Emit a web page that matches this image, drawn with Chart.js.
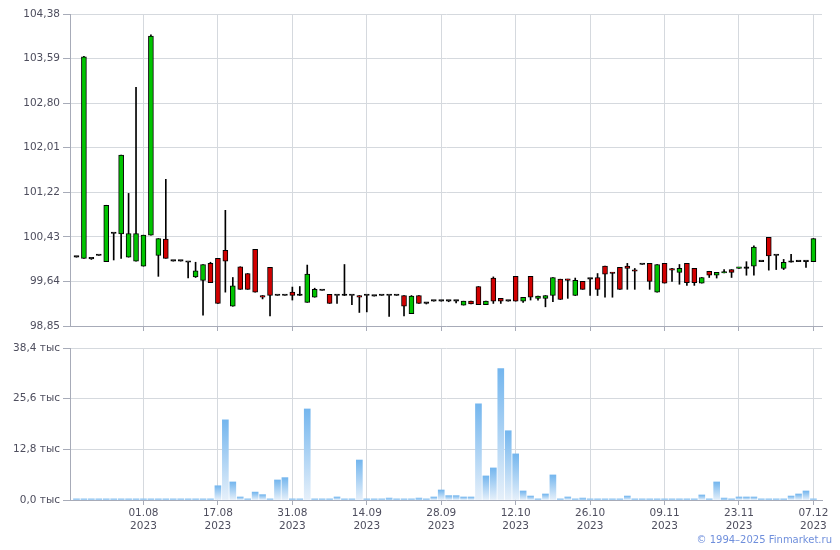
<!DOCTYPE html>
<html>
<head>
<meta charset="utf-8">
<title>Finmarket</title>
<script src="https://cdn.jsdelivr.net/npm/chart.js@4/dist/chart.umd.min.js"></script>
<style>
  body { margin: 0; background: #fff; }
  #wrap { position: relative; width: 840px; height: 550px; overflow: hidden; }
  #price-chart { position: absolute; left: 0; top: 0; }
  #vol-chart { position: absolute; left: 0; top: 336px; }
  #copy {
    position: absolute; right: 8px; top: 534px;
    font: 10px "DejaVu Sans", Verdana, sans-serif; color: #6f8fdc;
  }
</style>
</head>
<body>
<div id="wrap">
  <canvas id="price-chart" width="840" height="336"></canvas>
  <canvas id="vol-chart" width="840" height="214"></canvas>
  <div id="copy">© 1994–2025 Finmarket.ru</div>
</div>
<script>
/* =========================================================
   Свечной график цены + объём торгов (Chart.js)
   ========================================================= */

// подписи оси X: позиции свечей (по индексу) и даты
const tickIndex  = [9, 19, 29, 39, 49, 59, 69, 79, 89, 99];
const tickLabels = ['01.08', '17.08', '31.08', '14.09', '28.09', '12.10', '26.10', '09.11', '23.11', '07.12'];
const tickYear   = '2023';

// деления осей Y
const priceTicks = [98.85, 99.64, 100.43, 101.22, 102.01, 102.80, 103.59, 104.38];
const volTicks   = [0, 12.8, 25.6, 38.4];

// OHLC по дням (100 свечей)
const opens = [
  100.07, 100.05, 100.04, 100.10, 99.99, 100.49, 100.48, 100.07, 100.00, 99.91,
  100.46, 100.10, 100.39, 100.00, 100.00, 99.98, 99.72, 99.66, 99.96, 100.05,
  100.19, 99.20, 99.90, 99.78, 100.21, 99.39, 99.89, 99.39, 99.39, 99.45,
  99.39, 99.27, 99.36, 99.48, 99.41, 99.39, 99.39, 99.39, 99.39, 99.39,
  99.38, 99.39, 99.39, 99.39, 99.39, 99.07, 99.39, 99.25, 99.29, 99.29,
  99.29, 99.29, 99.22, 99.29, 99.55, 99.23, 99.70, 99.34, 99.29, 99.73,
  99.29, 99.73, 99.34, 99.34, 99.39, 99.68, 99.68, 99.39, 99.64, 99.68,
  99.71, 99.91, 99.80, 99.89, 99.91, 99.84, 99.94, 99.96, 99.45, 99.96,
  99.85, 99.80, 99.96, 99.87, 99.61, 99.82, 99.75, 99.79, 99.85, 99.87,
  99.87, 99.91, 99.99, 100.42, 100.10, 99.87, 99.98, 99.99, 99.99, 99.99
];
const closes = [
  100.07, 103.62, 100.04, 100.10, 100.99, 100.49, 101.88, 100.49, 100.49, 100.46,
  103.99, 100.40, 100.05, 100.00, 100.00, 99.98, 99.83, 99.94, 99.62, 99.25,
  100.00, 99.56, 99.50, 99.50, 99.45, 99.36, 99.39, 99.39, 99.39, 99.39,
  99.39, 99.77, 99.50, 99.48, 99.25, 99.39, 99.39, 99.39, 99.36, 99.39,
  99.38, 99.39, 99.39, 99.39, 99.20, 99.38, 99.25, 99.25, 99.29, 99.29,
  99.29, 99.29, 99.29, 99.24, 99.23, 99.29, 99.29, 99.29, 99.29, 99.29,
  99.36, 99.36, 99.38, 99.39, 99.71, 99.32, 99.66, 99.66, 99.50, 99.68,
  99.50, 99.77, 99.78, 99.50, 99.87, 99.82, 99.94, 99.64, 99.94, 99.61,
  99.84, 99.87, 99.62, 99.62, 99.71, 99.75, 99.80, 99.80, 99.80, 99.89,
  99.87, 100.25, 99.99, 100.09, 100.10, 99.98, 99.98, 99.99, 99.99, 100.40
];
const highs = [
  100.07, 103.63, 100.04, 100.10, 100.99, 100.49, 101.88, 101.20, 103.08, 100.46,
  104.01, 100.40, 101.45, 100.00, 100.00, 99.98, 99.98, 99.94, 99.98, 100.05,
  100.90, 99.71, 99.90, 99.78, 100.21, 99.39, 99.89, 99.39, 99.39, 99.54,
  99.55, 99.93, 99.52, 99.48, 99.41, 99.39, 99.94, 99.39, 99.39, 99.39,
  99.38, 99.39, 99.39, 99.39, 99.39, 99.39, 99.39, 99.25, 99.29, 99.29,
  99.29, 99.29, 99.29, 99.29, 99.55, 99.29, 99.72, 99.34, 99.29, 99.73,
  99.36, 99.73, 99.38, 99.39, 99.71, 99.68, 99.68, 99.70, 99.64, 99.68,
  99.78, 99.91, 99.80, 99.89, 99.96, 99.87, 99.94, 99.96, 99.94, 99.96,
  99.87, 99.94, 99.96, 99.87, 99.71, 99.82, 99.80, 99.85, 99.85, 99.89,
  99.99, 100.27, 99.99, 100.42, 100.10, 100.03, 100.12, 99.99, 99.99, 100.40
];
const lows = [
  100.07, 100.05, 100.03, 100.10, 99.99, 100.02, 100.05, 100.07, 100.00, 99.91,
  100.46, 99.73, 100.05, 100.00, 100.00, 99.70, 99.71, 99.04, 99.62, 99.25,
  99.45, 99.20, 99.50, 99.50, 99.45, 99.33, 99.03, 99.39, 99.39, 99.31,
  99.39, 99.27, 99.36, 99.48, 99.25, 99.25, 99.39, 99.23, 99.09, 99.10,
  99.38, 99.39, 99.02, 99.39, 99.03, 99.07, 99.25, 99.24, 99.29, 99.29,
  99.28, 99.26, 99.22, 99.24, 99.23, 99.23, 99.25, 99.25, 99.29, 99.29,
  99.27, 99.31, 99.31, 99.19, 99.28, 99.32, 99.34, 99.39, 99.50, 99.39,
  99.39, 99.36, 99.36, 99.50, 99.50, 99.50, 99.94, 99.50, 99.45, 99.61,
  99.64, 99.59, 99.57, 99.57, 99.61, 99.71, 99.70, 99.79, 99.71, 99.87,
  99.75, 99.75, 99.99, 99.84, 99.85, 99.85, 99.98, 99.99, 99.89, 99.99
];

// объём, тыс.
const volumes = [
  0.3, 0.3, 0.3, 0.3, 0.3, 0.3, 0.3, 0.3, 0.3, 0.3,
  0.3, 0.3, 0.3, 0.3, 0.3, 0.3, 0.3, 0.3, 0.3, 3.6,
  20.25, 4.56, 0.76, 0.3, 2.0, 1.35, 0.3, 5.06, 5.65, 0.3,
  0.3, 23.0, 0.3, 0.3, 0.3, 0.76, 0.3, 0.3, 10.1, 0.3,
  0.3, 0.3, 0.5, 0.3, 0.3, 0.3, 0.5, 0.3, 0.76, 2.53,
  1.1, 1.1, 0.76, 0.76, 24.3, 6.08, 8.1, 33.2, 17.5, 11.65,
  2.28, 1.0, 0.3, 1.52, 6.33, 0.3, 0.76, 0.3, 0.5, 0.3,
  0.3, 0.3, 0.3, 0.3, 1.0, 0.3, 0.3, 0.3, 0.3, 0.3,
  0.3, 0.3, 0.3, 0.3, 1.27, 0.3, 4.56, 0.5, 0.3, 0.76,
  0.76, 0.76, 0.3, 0.3, 0.3, 0.3, 1.0, 1.52, 2.28, 0.3
];

const FONT = { family: '"DejaVu Sans", Verdana, sans-serif', size: 10.5 };
const GRID = '#d5d9de';
const AXIS = '#a7abb8';
const TEXT = '#4e4e5e';
const X_MIN = -0.87;
const X_MAX = 100.15;

const upColor = '#00c400';
const downColor = '#d20000';

// общая ось X для обоих графиков
function xScale(height, withLabels) {
  return {
    type: 'linear',
    min: X_MIN,
    max: X_MAX,
    offset: false,
    afterBuildTicks: s => { s.ticks = tickIndex.map(v => ({ value: v })); },
    afterFit: s => { s.height = height; },
    grid: { color: GRID, tickLength: 5, tickColor: AXIS, offset: false },
    border: { color: AXIS },
    ticks: {
      display: withLabels,
      autoSkip: false,
      maxRotation: 0,
      padding: 2,
      color: TEXT,
      font: FONT,
      callback: (v, i) => withLabels ? [tickLabels[i], tickYear] : ''
    }
  };
}

const idx = opens.map((_, i) => i);

const wickData = idx.map(i => ({ x: i, y: [lows[i], highs[i]] }));
const bodyData = idx.map(i => ({ x: i, y: [opens[i], closes[i]] }));
const bodyColors = idx.map(i =>
  closes[i] > opens[i] ? upColor : closes[i] < opens[i] ? downColor : '#000');
const volData = idx.map(i => ({ x: i, y: volumes[i] }));

new Chart(document.getElementById('price-chart'), {
  type: 'bar',
  data: {
    datasets: [
      {
        label: 'body',
        data: bodyData,
        backgroundColor: bodyColors,
        borderColor: '#000',
        borderWidth: 1,
        borderSkipped: false,
        barThickness: 5,
        minBarLength: 1.5,
        grouped: false,
        order: 0
      },
      {
        label: 'wick',
        data: wickData,
        backgroundColor: '#000',
        borderWidth: 0,
        barThickness: 1,
        grouped: false,
        order: 1
      }
    ]
  },
  options: {
    responsive: false,
    animation: false,
    events: [],
    layout: { padding: { top: 14, right: 18, left: 0, bottom: 0 } },
    plugins: { legend: { display: false }, tooltip: { enabled: false } },
    scales: {
      x: xScale(10, false),
      y: {
        min: 98.85,
        max: 104.38,
        afterBuildTicks: s => { s.ticks = priceTicks.map(v => ({ value: v })); },
        afterFit: s => { s.width = 70; },
        grid: { color: GRID, tickLength: 7, tickColor: AXIS },
        border: { color: AXIS },
        ticks: {
          color: TEXT,
          font: FONT,
          padding: 3,
          callback: v => v.toFixed(2).replace('.', ',')
        }
      }
    }
  }
});

new Chart(document.getElementById('vol-chart'), {
  type: 'bar',
  data: {
    datasets: [{
      label: 'volume',
      data: volData,
      barThickness: 6,
      borderWidth: 0,
      minBarLength: 1,
      // градиент на каждый столбик: сверху голубой, снизу почти белый
      backgroundColor: c => {
        const chart = c.chart;
        const y = chart.scales && chart.scales.y;
        if (c.type !== 'data' || !y || !c.parsed) return '#8ec4f2';
        const top = y.getPixelForValue(c.parsed.y);
        const base = y.getPixelForValue(0);
        if (!isFinite(top) || base - top < 2) return '#8ec4f2';
        const g = chart.ctx.createLinearGradient(0, top, 0, base);
        g.addColorStop(0, '#74b6ee');
        g.addColorStop(1, '#e6f0fa');
        return g;
      }
    }]
  },
  options: {
    responsive: false,
    animation: false,
    events: [],
    layout: { padding: { top: 12, right: 18, left: 0, bottom: 0 } },
    plugins: { legend: { display: false }, tooltip: { enabled: false } },
    scales: {
      x: xScale(50, true),
      y: {
        min: 0,
        max: 38.4,
        afterBuildTicks: s => { s.ticks = volTicks.map(v => ({ value: v })); },
        afterFit: s => { s.width = 70; },
        grid: { color: GRID, tickLength: 7, tickColor: AXIS },
        border: { color: AXIS },
        ticks: {
          color: TEXT,
          font: FONT,
          padding: 3,
          callback: v => v.toFixed(1).replace('.', ',') + ' тыс'
        }
      }
    }
  }
});
</script>
</body>
</html>
